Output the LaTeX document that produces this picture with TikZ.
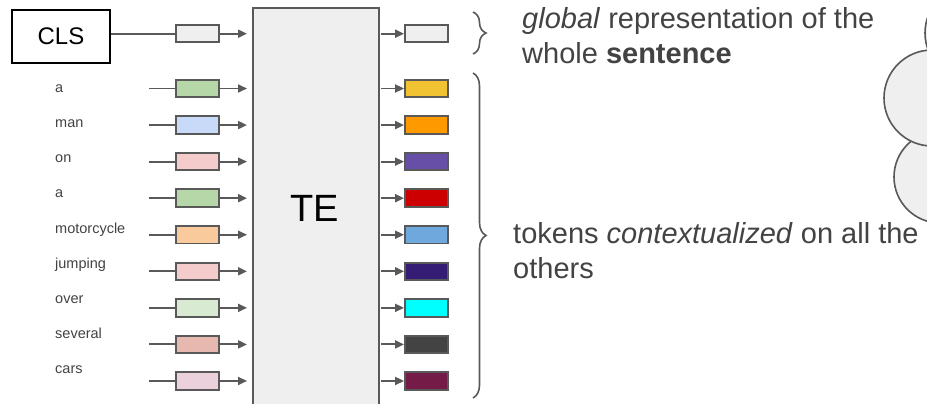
\documentclass[tikz,border=0pt]{standalone}
\usepackage{fontspec}
\setmainfont{Liberation Sans}
\usetikzlibrary{positioning,arrows.meta,decorations.pathreplacing}
\definecolor{linegray}{HTML}{595959}
\definecolor{textgray}{HTML}{434343}
\definecolor{boxgray}{HTML}{EFEFEF}
\tikzset{
  flowarrow/.style={-{Triangle[length=9pt,width=8pt]}, line width=1.9pt, draw=linegray},
  flowline/.style={line width=1.9pt, draw=linegray},
  embbox/.style={draw=linegray, line width=1.9pt, minimum width=43pt, minimum height=17.5pt, inner sep=0pt},
  tebox/.style={draw=linegray, line width=1.9pt, fill=boxgray, minimum width=126pt, minimum height=420pt, inner sep=0pt},
  clsbox/.style={draw=black, line width=1.6pt, minimum width=98pt, minimum height=53pt, inner sep=0pt, font=\fontsize{24}{28}\selectfont},
  wordlabel/.style={font=\fontsize{14.5}{17}\selectfont, text=textgray, anchor=base west, inner sep=0pt},
  notetext/.style={font=\fontsize{29}{35}\selectfont, text=textgray, align=left, anchor=base west, inner sep=0pt},
  bracedeco/.style={decorate, decoration={brace, amplitude=13pt}, line width=1.6pt, draw=linegray},
  cloudpart/.style={draw=linegray, line width=1.6pt, fill=boxgray}
}
\begin{document}
\begin{tikzpicture}[x=1pt, y=-1pt]
  \clip (0,0) rectangle (927,404);
  \fill[white] (0,0) rectangle (927,404);
  % cloud at the right border
  \draw[cloudpart] (972,33) circle (47);
  \draw[cloudpart] (940,177) circle (46);
  \draw[cloudpart] (932,98) circle (48);
  % transformer encoder
  \node[tebox, anchor=north west] (te) at (252,7) {};
  \node[font=\fontsize{38}{44}\selectfont] (telabel) at (315,208) {TE};
  % CLS token
  \node[clsbox] (cls) at (61,36.5) {CLS};
  \node[embbox, fill=boxgray] (in0) at (197.5,33.7) {};
  \node[embbox, fill=boxgray] (out0) at (426.5,33.7) {};
  \coordinate (e0) at (247,33.7);
  \coordinate (te0) at (381,33.7);
  \draw[flowline] (cls.east |- in0) -- (in0);
  \draw[flowarrow] (in0) -- (e0);
  \draw[flowarrow] (te0) -- (out0);
  % word tokens
  \foreach \i/\word/\incol/\outcol in {%
      0/a/B6D7A8/F1C232, 1/man/C9DAF8/FF9900, 2/on/F4CCCC/674EA7,
      3/a/B6D7A8/CC0000, 4/motorcycle/F9CB9C/6FA8DC, 5/jumping/F4CCCC/351C75,
      6/over/D9EAD3/00FFFF, 7/several/E6B8AF/434343, 8/cars/EAD1DC/741B47} {
    \pgfmathsetmacro{\rowy}{88.5+36.56*\i}
    \pgfmathsetmacro{\laby}{92.5+35.15*\i}
    \definecolor{incol}{HTML}{\incol}
    \definecolor{outcol}{HTML}{\outcol}
    \node[wordlabel] (w\i) at (55,\laby) {\word};
    \coordinate (s\i) at (149,\rowy);
    \node[embbox, fill=incol] (x\i) at (197.5,\rowy) {};
    \coordinate (e\i) at (247,\rowy);
    \coordinate (t\i) at (381,\rowy);
    \node[embbox, fill=outcol] (y\i) at (426.5,\rowy) {};
    \draw[flowline] (s\i) -- (x\i);
    \draw[flowarrow] (x\i) -- (e\i);
    \draw[flowarrow] (t\i) -- (y\i);
  }
  % braces and notes
  \coordinate (b0top) at (473,12);
  \coordinate (b0bot) at (473,54);
  \coordinate (b1top) at (473,73);
  \coordinate (b1bot) at (473,398);
  \draw[bracedeco] (b0top) -- (b0bot);
  \draw[bracedeco] (b1top) -- (b1bot);
  \node[notetext] (globalnote) at (522,63.5) {\textit{global} representation of the\\whole \textbf{sentence}};
  \node[notetext] (tokennote) at (513,278) {tokens \textit{contextualized} on all the\\others};
\end{tikzpicture}
\end{document}
